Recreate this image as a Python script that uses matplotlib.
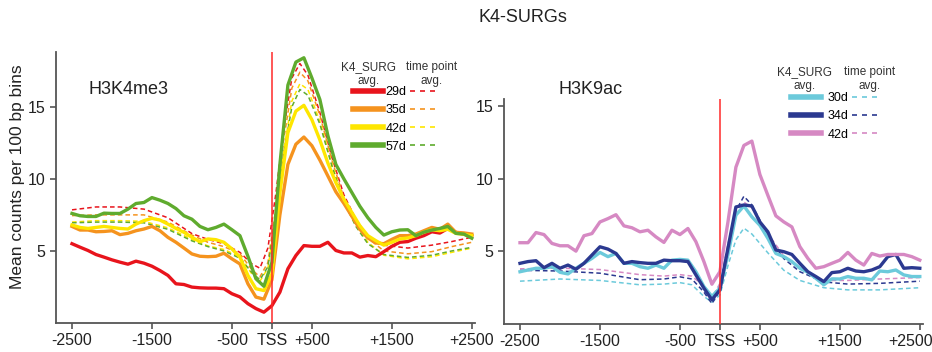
import numpy as np
import matplotlib
matplotlib.use("Agg")
import matplotlib.pyplot as plt
from matplotlib.lines import Line2D
from matplotlib.transforms import ScaledTranslation

plt.rcParams['font.family'] = ['Liberation Sans', 'DejaVu Sans']

# ---------------- data ----------------
bins = list(range(-2500, 2501, 100))

# H3K4me3 (K4_SURG avg.)
k4_29d = [5.5, 5.26, 5.03, 4.75, 4.57, 4.38, 4.22, 4.08, 4.29, 4.15, 3.94, 3.64, 3.3, 2.72, 2.67, 2.49, 2.44, 2.42, 2.42, 2.38,
          2.03, 1.81, 1.34, 1.0, 0.75, 1.2, 2.14, 3.76, 4.68, 5.37, 5.32, 5.32, 5.6, 5.03, 4.86, 4.86, 4.57, 4.68, 4.6, 4.95,
          5.32, 5.6, 5.65, 5.88, 6.06, 6.33, 6.24, 6.56, 6.29, 6.17, 6.06]
k4_35d = [6.7, 6.45, 6.45, 6.33, 6.35, 6.4, 6.13, 6.22, 6.4, 6.52, 6.7, 6.4, 5.94, 5.6, 5.2, 4.79, 4.63, 4.6, 4.63, 4.84,
          4.45, 4.1, 2.72, 1.8, 1.65, 3.0, 7.5, 11.0, 12.4, 12.9, 12.3, 11.3, 10.2, 9.1, 8.3, 7.4, 6.5, 5.9, 5.55, 5.5,
          5.8, 6.06, 6.06, 6.17, 6.4, 6.63, 6.5, 6.86, 6.29, 6.25, 6.17]
k4_42d = [6.8, 6.63, 6.56, 6.63, 6.7, 6.63, 6.56, 6.52, 6.86, 7.1, 7.26, 7.14, 6.86, 6.56, 6.29, 5.94, 5.64, 5.83, 5.78, 5.6,
          5.14, 4.57, 3.3, 2.38, 2.25, 3.4, 9.0, 13.2, 14.7, 15.1, 14.1, 12.7, 11.1, 9.74, 8.59, 7.67, 6.75, 6.06, 5.71, 5.4,
          5.6, 5.83, 5.9, 6.06, 6.3, 6.47, 6.4, 6.5, 6.22, 6.15, 6.06]
k4_57d = [7.6, 7.44, 7.39, 7.39, 7.62, 7.6, 7.6, 7.9, 8.29, 8.36, 8.7, 8.52, 8.29, 7.94, 7.44, 7.2, 6.7, 6.47, 6.63, 6.86,
          6.47, 6.06, 4.63, 3.07, 2.55, 4.2, 11.0, 16.5, 18.1, 18.4, 17.0, 15.5, 13.0, 11.0, 10.0, 9.05, 8.1, 7.3, 6.63, 6.1,
          6.33, 6.45, 6.47, 6.06, 6.3, 6.45, 6.56, 6.7, 6.22, 6.17, 5.88]

# H3K4me3 (time point avg.)
k4_avg_bins = [-2500, -2200, -1900, -1600, -1300, -1000, -800, -600, -400, -250, -150, -50, 50, 150, 250, 350, 450,
               600, 750, 900, 1050, 1200, 1400, 1700, 2000, 2250, 2500]
k4_29d_avg = [7.85, 8.05, 8.05, 7.9, 7.3, 6.2, 5.8, 5.5, 4.9, 4.1, 3.8, 5.2, 9.0, 13.5, 17.0, 18.0, 17.2,
              14.6, 11.5, 8.9, 7.2, 6.0, 5.4, 5.2, 5.4, 5.65, 5.95]
k4_35d_avg = [7.45, 7.5, 7.5, 7.5, 7.0, 6.1, 5.6, 5.3, 4.8, 3.7, 3.2, 4.2, 8.0, 12.8, 16.3, 17.4, 16.8,
              14.4, 11.3, 8.7, 7.0, 5.9, 5.0, 4.8, 4.95, 5.3, 5.6]
k4_42d_avg = [7.0, 7.1, 7.1, 7.05, 6.6, 5.8, 5.35, 5.1, 4.6, 3.4, 2.9, 3.8, 7.5, 12.0, 15.4, 16.6, 16.2,
              14.0, 11.0, 8.5, 6.8, 5.6, 4.7, 4.45, 4.6, 4.9, 5.2]
k4_57d_avg = [6.95, 7.0, 7.0, 6.95, 6.5, 5.7, 5.3, 5.0, 4.5, 3.5, 3.0, 3.9, 7.5, 11.8, 15.0, 16.2, 15.8,
              13.8, 10.9, 8.4, 6.7, 5.5, 4.75, 4.55, 4.7, 5.0, 5.25]

# H3K9ac (K4_SURG avg.)
k9_30d = [3.6, 3.72, 3.84, 3.84, 3.95, 3.56, 3.45, 3.84, 4.18, 4.52, 4.93, 4.64, 4.86, 4.18, 4.18, 3.95, 3.84, 4.06, 3.84, 4.4,
          4.45, 4.4, 3.6, 2.58, 1.9, 2.47, 4.75, 7.5, 8.13, 7.38, 6.8, 5.9, 4.86, 4.64, 4.3, 3.84, 3.56, 3.15, 2.7, 3.11,
          3.1, 3.27, 3.15, 3.15, 3.04, 3.65, 3.6, 3.72, 3.38, 3.27, 3.27]
k9_34d = [4.18, 4.3, 4.36, 3.88, 4.18, 3.84, 4.06, 3.77, 4.18, 4.75, 5.32, 5.16, 4.86, 4.18, 4.3, 4.23, 4.18, 4.18, 4.4, 4.36,
          4.36, 4.3, 3.38, 2.47, 1.67, 2.35, 5.2, 8.06, 8.2, 8.13, 7.03, 6.35, 5.1, 4.98, 4.79, 4.18, 3.6, 3.27, 2.92, 3.54,
          3.6, 3.84, 3.65, 3.6, 3.72, 3.95, 4.64, 4.79, 3.84, 3.88, 3.84]
k9_42d = [5.6, 5.6, 6.3, 6.16, 5.55, 5.39, 5.39, 5.02, 6.08, 6.23, 7.03, 7.26, 7.53, 6.76, 6.63, 6.35, 6.46, 6.0, 5.62, 6.46,
          6.16, 6.58, 5.67, 4.3, 2.74, 3.6, 7.0, 10.8, 12.3, 12.6, 10.3, 8.86, 7.45, 7.03, 6.69, 5.33, 4.52, 3.84, 3.95, 4.18,
          4.4, 4.93, 4.4, 4.06, 4.86, 4.68, 4.79, 4.79, 4.79, 4.64, 4.4]

# H3K9ac (time point avg.)
k9_avg_bins = [-2500, -2000, -1500, -1000, -700, -500, -350, -200, -100, 0, 100, 200, 300, 400, 600, 800, 1000,
               1300, 1600, 2000, 2500]
k9_30d_avg = [2.95, 3.1, 3.0, 2.7, 2.75, 2.85, 2.7, 1.9, 1.5, 2.0, 4.0, 5.8, 6.6, 6.2, 4.9, 3.7, 3.0,
              2.5, 2.35, 2.35, 2.5]
k9_34d_avg = [3.7, 3.65, 3.5, 3.05, 3.1, 3.25, 3.1, 2.2, 1.4, 2.3, 5.2, 7.8, 8.8, 8.2, 6.1, 4.5, 3.6,
              2.9, 2.75, 2.8, 2.95]
k9_42d_avg = [3.8, 3.85, 3.75, 3.4, 3.3, 3.4, 3.3, 2.6, 1.8, 2.8, 5.5, 7.8, 8.4, 8.0, 6.2, 4.7, 3.8,
              3.0, 3.0, 3.1, 3.2]

x_ticks = [-2500, -1500, -500, 0, 500, 1500, 2500]
x_ticklabels = ['-2500', '-1500', '-500', 'TSS', '+500', '+1500', '+2500']
y_ticks = [5, 10, 15]

k4_labels = ['29d', '35d', '42d', '57d']
k9_labels = ['30d', '34d', '42d']

# ---------------- style ----------------
k4_colors = ['#e8141c', '#f5931e', '#fee600', '#5fab2e']
k9_colors = ['#6ccadb', '#2b3990', '#d689c3']
spine_col = '#555555'
tss_col = '#ff2a2a'
txt_col = '#222222'

fig = plt.figure(figsize=(9.32, 3.52), dpi=100)
axL = fig.add_axes([56/932, 29/352, 419/932, 271/352])
axR = fig.add_axes([504/932, 28/352, 419/932, 225/352])


def style_axes(ax, ymax):
    ax.set_xlim(-2700, 2540)
    ax.set_ylim(0, ymax)
    for s in ['top', 'right']:
        ax.spines[s].set_visible(False)
    for s in ['left', 'bottom']:
        ax.spines[s].set_color(spine_col)
        ax.spines[s].set_linewidth(1.3)
    ax.set_xticks(x_ticks)
    ax.set_xticklabels(x_ticklabels)
    ax.set_yticks(y_ticks)
    ax.tick_params(axis='both', colors=spine_col, labelcolor=txt_col, labelsize=11.5,
                   length=4.5, width=1.2, direction='out', pad=3)
    ax.axvline(0, color=tss_col, lw=1.1, zorder=5)


def draw_panel(ax, solid, avg, avg_bins, colors):
    for vals, c in zip(avg, colors):
        ax.plot(avg_bins, vals, color=c, lw=1.1, dashes=(3, 2), zorder=2)
    for vals, c in zip(solid, colors):
        ax.plot(bins, vals, color=c, lw=2.4, zorder=3)
    h_solid = [Line2D([], [], color=c, lw=4) for c in colors]
    h_dash = [Line2D([], [], color=c, lw=1.2, dashes=(3, 3)) for c in colors]
    return h_solid, h_dash


def headers(ax, x1, x2, y1, y2):
    kw = dict(transform=ax.transAxes, ha='center', va='center', fontsize=8.5, color='#333333')
    ax.text(x1, y1, 'K4_SURG', **kw)
    ax.text(x1, y2, 'avg.', **kw)
    ax.text(x2, y1, 'time point', **kw)
    ax.text(x2, y2, 'avg.', **kw)


style_axes(axL, 18.8)
style_axes(axR, 15.5)

# left panel
hs, hd = draw_panel(axL, [k4_29d, k4_35d, k4_42d, k4_57d],
                    [k4_29d_avg, k4_35d_avg, k4_42d_avg, k4_57d_avg], k4_avg_bins, k4_colors)
axL.legend(hs + hd, k4_labels + [''] * 4, ncol=2, frameon=False, fontsize=9,
           handlelength=2.4, handletextpad=0.2, columnspacing=0.3, labelspacing=0.5,
           loc='upper left', bbox_to_anchor=((353 - 56) / 419, (323 - 86) / 271),
           borderpad=0, borderaxespad=0)
headers(axL, (369 - 56) / 419, (432 - 56) / 419, (323 - 67) / 271, (323 - 81) / 271)
axL.text((88 - 56) / 419, (323 - 90) / 271, 'H3K4me3', transform=axL.transAxes, ha='left', va='center',
         fontsize=13, color=txt_col)

# right panel
hs, hd = draw_panel(axR, [k9_30d, k9_34d, k9_42d],
                    [k9_30d_avg, k9_34d_avg, k9_42d_avg], k9_avg_bins, k9_colors)
axR.legend(hs + hd, k9_labels + [''] * 3, ncol=2, frameon=False, fontsize=9,
           handlelength=2.4, handletextpad=0.5, columnspacing=0.3, labelspacing=0.5,
           loc='upper left', bbox_to_anchor=((791 - 504) / 419, (324 - 92) / 225),
           borderpad=0, borderaxespad=0)
headers(axR, (805 - 504) / 419, (870 - 504) / 419, (324 - 72) / 225, (324 - 86) / 225)
axR.text((559 - 504) / 419, (324 - 89) / 225, 'H3K9ac', transform=axR.transAxes, ha='left', va='center',
         fontsize=13, color=txt_col)

# keep the last right-hand tick label inside the figure, as in the reference
last = axR.get_xticklabels()[-1]
last.set_transform(last.get_transform() + ScaledTranslation(-9 / 100, 0, fig.dpi_scale_trans))

fig.text(18 / 932, 1 - 177 / 352, 'Mean counts per 100 bp bins', rotation=90, ha='center', va='center',
         fontsize=12.5, color=txt_col)
fig.text(523 / 932, 1 - 18 / 352, 'K4-SURGs', ha='center', va='center', fontsize=13, color=txt_col)

fig.savefig('out.png', dpi=100)
